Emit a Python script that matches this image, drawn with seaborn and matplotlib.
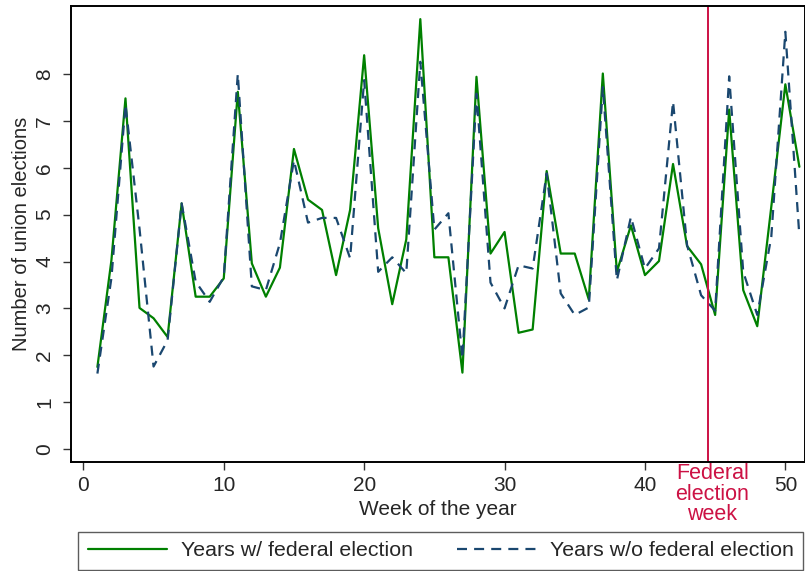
import numpy as np
import pandas as pd
import matplotlib
matplotlib.use("Agg")
import matplotlib.pyplot as plt
import matplotlib.transforms as mtransforms
import seaborn as sns

# ── Dados ─────────────────────────────────────────────────────────────────
weeks = list(range(1, 52))
with_federal = [
    1.75, 4.03, 7.48, 3.01, 2.79, 2.39, 5.24, 3.25, 3.25, 3.64,
    7.62, 3.96, 3.25, 3.87, 6.40, 5.32, 5.10, 3.71, 5.10, 8.40,
    4.71, 3.09, 4.47, 9.17, 4.09, 4.09, 1.63, 7.94, 4.17, 4.63,
    2.48, 2.55, 5.93, 4.17, 4.17, 3.19, 8.01, 3.78, 4.77, 3.71,
    4.01, 6.08, 4.33, 3.94, 2.86, 7.24, 3.39, 2.62, 5.17, 7.78,
    6.02,
]
without_federal = [
    1.61, 3.65, 7.35, 4.70, 1.76, 2.32, 5.24, 3.57, 3.14, 3.67,
    8.00, 3.47, 3.39, 4.39, 6.16, 4.83, 4.93, 4.93, 4.07, 7.87,
    3.78, 4.09, 3.75, 8.26, 4.68, 5.03, 1.93, 7.58, 3.55, 3.00,
    3.92, 3.85, 5.88, 3.32, 2.86, 3.02, 7.72, 3.60, 4.95, 3.85,
    4.28, 7.41, 4.35, 3.28, 2.95, 7.95, 3.78, 2.86, 4.53, 8.90,
    4.54,
]
series_labels = ["Years w/ federal election", "Years w/o federal election"]
election_week = 44.5
x_ticks = [0, 10, 20, 30, 40, 50]
y_ticks = [0, 1, 2, 3, 4, 5, 6, 7, 8]

df = pd.DataFrame({
    "week": weeks * 2,
    "elections": with_federal + without_federal,
    "serie": [series_labels[0]] * len(weeks) + [series_labels[1]] * len(weeks),
})

sns.set_theme(style="white")
plt.rcParams["font.family"] = ["Liberation Sans", "DejaVu Sans"]

fig = plt.figure(figsize=(8.05, 5.71), dpi=100)
ax = fig.add_axes([0.0882, 0.1914, 0.9118, 0.7981])

palette = {series_labels[0]: "#008000", series_labels[1]: "#1a476f"}
dashes = {series_labels[0]: "", series_labels[1]: (4.5, 3.2)}
sns.lineplot(data=df, x="week", y="elections", hue="serie", style="serie",
             palette=palette, dashes=dashes, linewidth=1.6, ax=ax)

ax.axvline(election_week, color="#cc1144", linewidth=1.4)

ax.set_xlim(-0.88, 51.4)
ax.set_ylim(-0.27, 9.45)
ax.set_xticks(x_ticks)
ax.set_yticks(y_ticks)
ax.tick_params(axis="both", which="both", direction="out", length=6, width=1,
               color="#333333", labelsize=15, bottom=True, left=True, pad=4)
ax.tick_params(axis="y", pad=6)
for lbl in ax.get_yticklabels():
    lbl.set_rotation(90)
    lbl.set_va("center")
for side in ["top", "right", "bottom", "left"]:
    ax.spines[side].set_color("black")
    ax.spines[side].set_linewidth(1.4)

ax.set_xlabel("Week of the year", fontsize=15, labelpad=4)
ax.set_ylabel("Number of union elections", fontsize=14.5, labelpad=3)

# rótulo da semana eleitoral abaixo do eixo
trans = mtransforms.blended_transform_factory(ax.transData, ax.transAxes)
ax.text(election_week + 0.3, -0.003, "Federal\nelection\nweek", transform=trans,
        ha="center", va="top", color="#cc1144", fontsize=15.5, linespacing=0.97)

handles, labels = ax.get_legend_handles_labels()
ax.get_legend().remove()
leg = fig.legend(handles, labels, loc="lower left",
                 bbox_to_anchor=(78 / 805, 1 / 571),
                 ncol=2, fontsize=15.4, frameon=True, fancybox=False,
                 handlelength=3.7, handletextpad=0.65, columnspacing=2.05,
                 borderaxespad=0, borderpad=0.45)
leg.get_frame().set_edgecolor("#333333")
leg.get_frame().set_linewidth(1.0)

fig.savefig("out.png", dpi=100)
